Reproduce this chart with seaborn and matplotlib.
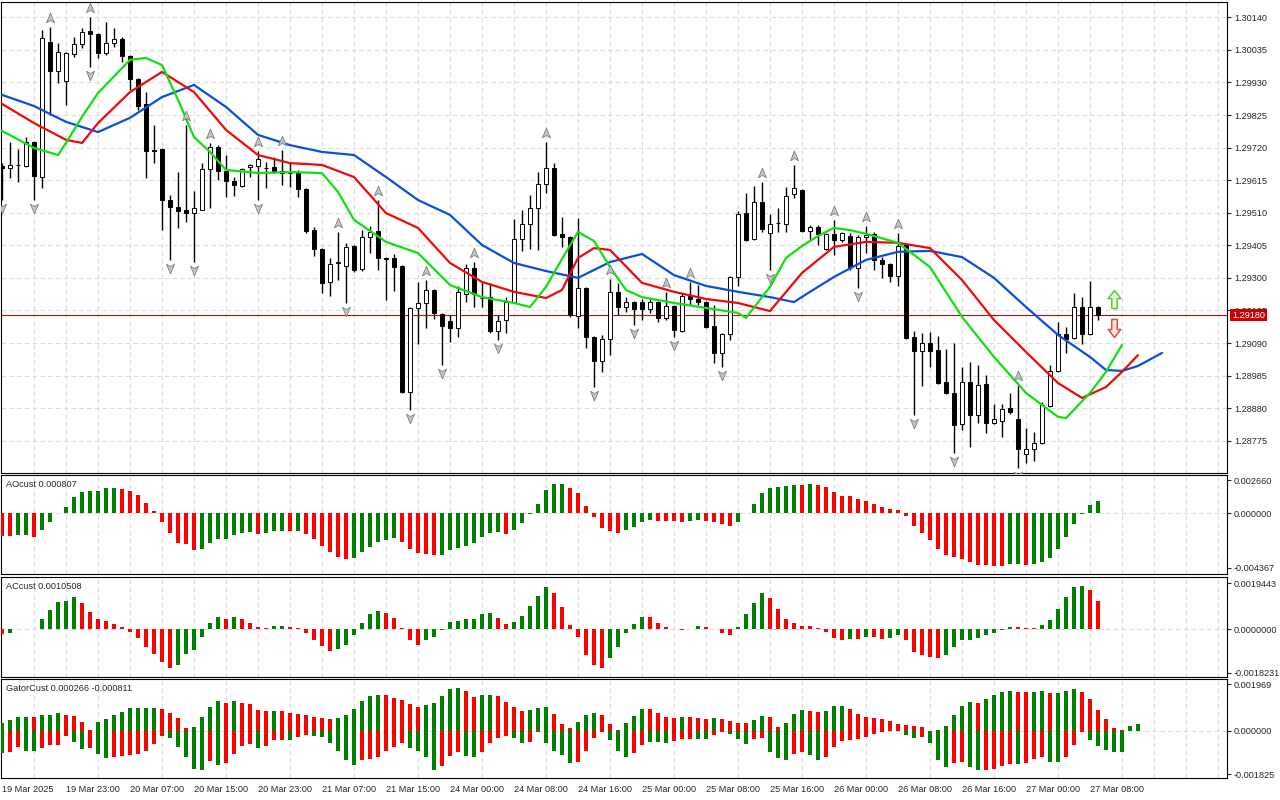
import numpy as np
import pandas as pd
import matplotlib
matplotlib.use("Agg")
import matplotlib.pyplot as plt
import matplotlib.transforms as mtransforms
from matplotlib.path import Path
import seaborn as sns

# ---- GBPUSD H1 candles (19 Mar 15:00 .. 27 Mar 09:00) ----
opens = [1.29661, 1.29654, 1.29664, 1.29661, 1.29738, 1.29625, 1.30061, 1.29967, 1.29935, 1.30022,
         1.30054, 1.30096, 1.30086, 1.30025, 1.30057, 1.30070, 1.30015, 1.29941, 1.29861, 1.29712,
         1.29716, 1.29551, 1.29529, 1.29519, 1.29509, 1.29519, 1.29651, 1.29722, 1.29645, 1.29612,
         1.29596, 1.29658, 1.29661, 1.29654, 1.29658, 1.29645, 1.29638, 1.29638, 1.29587, 1.29454,
         1.29393, 1.29287, 1.29348, 1.29338, 1.29403, 1.29329, 1.29432, 1.29451, 1.29364, 1.29364,
         1.29338, 1.28932, 1.29203, 1.29219, 1.29261, 1.29184, 1.29161, 1.29138, 1.29248, 1.29332,
         1.29235, 1.29238, 1.29129, 1.29164, 1.29222, 1.29425, 1.29474, 1.29525, 1.29603, 1.29654,
         1.29442, 1.29432, 1.29177, 1.29267, 1.29110, 1.29032, 1.29103, 1.29255, 1.29206, 1.29222,
         1.29222, 1.29200, 1.29222, 1.29171, 1.29209, 1.29129, 1.29242, 1.29232, 1.29222, 1.29145,
         1.29058, 1.29119, 1.29303, 1.29509, 1.29425, 1.29545, 1.29445, 1.29477, 1.29474, 1.29571,
         1.29583, 1.29451, 1.29464, 1.29393, 1.29442, 1.29422, 1.29435, 1.29332, 1.29432, 1.29442,
         1.29358, 1.29345, 1.29306, 1.29409, 1.29110, 1.29064, 1.29090, 1.29068, 1.28964, 1.28929,
         1.28829, 1.28964, 1.28858, 1.28958, 1.28832, 1.28839, 1.28881, 1.28845, 1.28732, 1.28748,
         1.28768, 1.28887, 1.29000, 1.29119, 1.29106, 1.29206, 1.29119, 1.29206]
highs = [1.29670, 1.29738, 1.29716, 1.29754, 1.29741, 1.30099, 1.30109, 1.30057, 1.30028, 1.30077,
         1.30106, 1.30141, 1.30090, 1.30125, 1.30106, 1.30077, 1.30019, 1.29944, 1.29899, 1.29793,
         1.29719, 1.29567, 1.29641, 1.29793, 1.29580, 1.29670, 1.29735, 1.29728, 1.29696, 1.29625,
         1.29654, 1.29667, 1.29709, 1.29674, 1.29690, 1.29712, 1.29674, 1.29648, 1.29590, 1.29464,
         1.29396, 1.29364, 1.29448, 1.29413, 1.29406, 1.29454, 1.29467, 1.29551, 1.29367, 1.29377,
         1.29340, 1.29206, 1.29287, 1.29293, 1.29264, 1.29187, 1.29180, 1.29274, 1.29345, 1.29351,
         1.29287, 1.29284, 1.29180, 1.29238, 1.29490, 1.29519, 1.29567, 1.29641, 1.29738, 1.29670,
         1.29496, 1.29435, 1.29493, 1.29271, 1.29113, 1.29116, 1.29296, 1.29284, 1.29238, 1.29226,
         1.29232, 1.29232, 1.29226, 1.29255, 1.29213, 1.29251, 1.29287, 1.29277, 1.29226, 1.29213,
         1.29122, 1.29306, 1.29516, 1.29574, 1.29596, 1.29609, 1.29506, 1.29525, 1.29593, 1.29664,
         1.29587, 1.29471, 1.29471, 1.29445, 1.29487, 1.29448, 1.29445, 1.29438, 1.29467, 1.29448,
         1.29367, 1.29348, 1.29445, 1.29413, 1.29129, 1.29122, 1.29126, 1.29113, 1.29071, 1.29090,
         1.29013, 1.29029, 1.29019, 1.28987, 1.28893, 1.28893, 1.28929, 1.28955, 1.28816, 1.28803,
         1.28900, 1.29019, 1.29158, 1.29142, 1.29251, 1.29238, 1.29290, 1.29210]
lows = [1.29551, 1.29622, 1.29609, 1.29658, 1.29551, 1.29590, 1.29825, 1.29928, 1.29857, 1.30012,
        1.30041, 1.29980, 1.30009, 1.30019, 1.30044, 1.29996, 1.29906, 1.29841, 1.29622, 1.29670,
        1.29454, 1.29358, 1.29461, 1.29480, 1.29351, 1.29519, 1.29525, 1.29616, 1.29561, 1.29564,
        1.29593, 1.29625, 1.29551, 1.29590, 1.29638, 1.29600, 1.29593, 1.29561, 1.29445, 1.29371,
        1.29251, 1.29242, 1.29293, 1.29219, 1.29319, 1.29322, 1.29380, 1.29325, 1.29229, 1.29258,
        1.28930, 1.28874, 1.29087, 1.29138, 1.29168, 1.29019, 1.29093, 1.29110, 1.29222, 1.29206,
        1.29206, 1.29122, 1.29100, 1.29122, 1.29219, 1.29387, 1.29393, 1.29390, 1.29574, 1.29436,
        1.29400, 1.29174, 1.29138, 1.29074, 1.28948, 1.28997, 1.29051, 1.29180, 1.29190, 1.29148,
        1.29164, 1.29187, 1.29158, 1.29164, 1.29110, 1.29126, 1.29213, 1.29213, 1.29138, 1.29026,
        1.29013, 1.29100, 1.29274, 1.29420, 1.29422, 1.29448, 1.29325, 1.29448, 1.29448, 1.29558,
        1.29448, 1.29422, 1.29406, 1.29390, 1.29374, 1.29416, 1.29325, 1.29267, 1.29380, 1.29325,
        1.29300, 1.29287, 1.29274, 1.29104, 1.28858, 1.28952, 1.29013, 1.28958, 1.28926, 1.28736,
        1.28810, 1.28755, 1.28832, 1.28800, 1.28829, 1.28787, 1.28861, 1.28687, 1.28703, 1.28710,
        1.28765, 1.28884, 1.28997, 1.29058, 1.29103, 1.29087, 1.29116, 1.29164]
closes = [1.29654, 1.29664, 1.29663, 1.29738, 1.29629, 1.30073, 1.29967, 1.30028, 1.30025, 1.30054,
          1.30093, 1.30086, 1.30025, 1.30057, 1.30070, 1.30015, 1.29941, 1.29854, 1.29709, 1.29709,
          1.29551, 1.29529, 1.29516, 1.29509, 1.29525, 1.29651, 1.29722, 1.29645, 1.29612, 1.29600,
          1.29651, 1.29664, 1.29683, 1.29655, 1.29641, 1.29638, 1.29637, 1.29587, 1.29451, 1.29393,
          1.29284, 1.29345, 1.29351, 1.29400, 1.29325, 1.29432, 1.29448, 1.29364, 1.29362, 1.29335,
          1.28932, 1.29203, 1.29219, 1.29261, 1.29187, 1.29145, 1.29138, 1.29255, 1.29332, 1.29248,
          1.29236, 1.29129, 1.29161, 1.29222, 1.29425, 1.29474, 1.29525, 1.29603, 1.29654, 1.29438,
          1.29432, 1.29180, 1.29267, 1.29110, 1.29032, 1.29103, 1.29255, 1.29206, 1.29222, 1.29200,
          1.29200, 1.29222, 1.29171, 1.29209, 1.29132, 1.29242, 1.29232, 1.29222, 1.29142, 1.29058,
          1.29119, 1.29303, 1.29506, 1.29422, 1.29545, 1.29458, 1.29474, 1.29476, 1.29564, 1.29590,
          1.29451, 1.29464, 1.29442, 1.29442, 1.29422, 1.29445, 1.29335, 1.29432, 1.29438, 1.29358,
          1.29345, 1.29306, 1.29403, 1.29106, 1.29064, 1.29090, 1.29064, 1.28961, 1.28929, 1.28826,
          1.28964, 1.28858, 1.28955, 1.28832, 1.28845, 1.28877, 1.28868, 1.28748, 1.28748, 1.28768,
          1.28890, 1.29000, 1.29119, 1.29103, 1.29206, 1.29119, 1.29206, 1.29180]

# ---- Alligator lines (bar index, price), shifted forward ----
jaw_idx = [0, 4, 8, 12, 16, 20, 24, 28, 32, 36, 40, 44, 48, 52, 56, 60, 64, 68, 72, 76, 80, 84,
           88, 92, 96, 99, 101, 104, 108, 112, 116, 120, 124, 128, 132, 136, 138, 140, 142, 145]
jaw_vals = [1.29890, 1.29854, 1.29803, 1.29770, 1.29816, 1.29883, 1.29922, 1.29851, 1.29761, 1.29728,
            1.29706, 1.29696, 1.29625, 1.29551, 1.29503, 1.29406, 1.29348, 1.29322, 1.29300, 1.29351,
            1.29377, 1.29309, 1.29274, 1.29255, 1.29238, 1.29222, 1.29255, 1.29303, 1.29358, 1.29384,
            1.29387, 1.29367, 1.29300, 1.29206, 1.29116, 1.29045, 1.29003, 1.29000, 1.29016, 1.29058]
teeth_idx = [0, 4, 8, 10, 12, 16, 20, 24, 28, 32, 36, 40, 44, 48, 52, 56, 60, 64, 68, 70, 72, 74,
             76, 80, 84, 88, 92, 96, 100, 104, 108, 112, 116, 120, 124, 128, 132, 135, 138, 140, 142]
teeth_vals = [1.29861, 1.29799, 1.29745, 1.29735, 1.29799, 1.29899, 1.29964, 1.29899, 1.29777, 1.29696,
              1.29670, 1.29664, 1.29625, 1.29509, 1.29461, 1.29348, 1.29287, 1.29255, 1.29235, 1.29261,
              1.29364, 1.29396, 1.29390, 1.29284, 1.29255, 1.29232, 1.29219, 1.29193, 1.29316, 1.29400,
              1.29416, 1.29413, 1.29396, 1.29293, 1.29164, 1.29061, 1.28961, 1.28913, 1.28948, 1.28997,
              1.29051]
lips_idx = [0, 4, 7, 8, 10, 12, 16, 18, 20, 22, 24, 26, 28, 32, 36, 40, 42, 44, 48, 52, 56, 60, 64,
            66, 68, 70, 72, 74, 76, 78, 80, 84, 88, 92, 93, 96, 98, 100, 102, 104, 106, 108, 112,
            116, 120, 124, 128, 132, 133, 136, 138, 140]
lips_vals = [1.29774, 1.29719, 1.29696, 1.29735, 1.29819, 1.29896, 1.30003, 1.30009, 1.29986, 1.29874,
             1.29754, 1.29706, 1.29648, 1.29638, 1.29641, 1.29638, 1.29577, 1.29487, 1.29416, 1.29380,
             1.29277, 1.29238, 1.29219, 1.29206, 1.29271, 1.29361, 1.29448, 1.29419, 1.29335, 1.29261,
             1.29238, 1.29219, 1.29203, 1.29187, 1.29171, 1.29271, 1.29364, 1.29403, 1.29435, 1.29461,
             1.29454, 1.29442, 1.29413, 1.29335, 1.29174, 1.29045, 1.28929, 1.28852, 1.28848, 1.28929,
             1.28997, 1.29084]

# ---- Fractals and signal arrows ----
up_fractals = [6, 11, 23, 26, 32, 35, 42, 47, 53, 59, 68, 76, 83, 86, 95, 99, 104, 108, 112, 127]
down_fractals = [0, 4, 11, 21, 24, 32, 43, 51, 55, 62, 74, 79, 84, 90, 96, 107, 114, 119, 127]
signal_bar = 139
signal_up_price = 1.29232
signal_down_price = 1.29139
last_price = 1.29180

# ---- Oscillators (in 1e-5 units) ----
ao_pts = [-178, -180, -174, -172, -186, -134, -66, 4, 54, 134,
          170, 178, 180, 200, 202, 198, 178, 146, 80, 18,
          -66, -160, -234, -248, -294, -286, -234, -206, -204, -174,
          -154, -152, -166, -154, -142, -140, -144, -142, -166, -206,
          -262, -306, -346, -366, -354, -312, -266, -226, -214, -194,
          -226, -286, -320, -326, -334, -332, -294, -274, -262, -234,
          -186, -154, -152, -166, -134, -80, -8, 74, 186, 234,
          236, 206, 160, 58, -26, -114, -138, -154, -134, -106,
          -66, -54, -58, -60, -62, -66, -64, -54, -58, -66,
          -88, -98, -66, 2, 74, 160, 204, 214, 216, 226,
          224, 234, 226, 214, 170, 142, 140, 114, 98, 74,
          48, 34, 26, -18, -98, -160, -214, -286, -334, -346,
          -366, -386, -414, -416, -422, -424, -406, -404, -414, -406,
          -386, -354, -286, -186, -86, -6, 66, 98]
ao_colors = ("RRGGRGGGGG" "GGGGGRRRRR" "RRRRRGGGGG" "GGRGGGRGRR" "RRRRGGGGGG"
             "RRRRRGGGGG" "GGGRGGGGGG" "GRRRRRRRGG" "GGRRRRGGRR" "RRGGGGGGGG"
             "RGRRRRRRRR" "RRRRRRRRRR" "RRRRRRGGRG" "GGGGGGGG")
ac_pts = [-20, -14, 2, 3, 2, 43, 81, 115, 119, 136,
          109, 73, 43, 35, 22, 10, -10, -35, -73, -104,
          -137, -161, -152, -104, -87, -31, 25, 53, 43, 53,
          42, 28, 10, 5, 14, 15, 10, 7, -14, -45,
          -70, -91, -84, -66, -24, 25, 63, 77, 67, 49,
          5, -47, -68, -47, -31, -5, 31, 35, 43, 44,
          64, 68, 47, 22, 31, 56, 98, 140, 178, 151,
          94, 18, -34, -110, -152, -161, -119, -73, -17, 22,
          52, 51, 26, 10, 3, -4, 1, 14, 10, 1,
          -17, -22, 10, 64, 110, 152, 131, 85, 43, 26,
          14, 13, 5, -11, -35, -45, -39, -40, -31, -32,
          -39, -35, -26, -47, -94, -110, -115, -119, -110, -73,
          -47, -43, -35, -26, -14, -5, 10, 9, 5, 4,
          18, 39, 85, 136, 178, 182, 165, 119]
ac_colors = ("RGGGRGGGGG" "RRRRRRRRRR" "RRGGGGGGRG" "RRRRGGRRRR" "RRGGGGGGRR"
             "RRRGGGGGGG" "GGRRGGGGGR" "RRRRRRGGGG" "GRRRRRGGRR" "RRGGGGRRRR"
             "RRRRRRGRGR" "RGGRRRRRGG" "GGGGGGGRRR" "GGGGGGRR")
gator_up_pts = [32, 46, 58, 60, 59, 66, 67, 74, 66, 65,
                37, 4, 38, 49, 66, 80, 95, 96, 97, 98,
                91, 74, 53, 11, 16, 58, 100, 126, 118, 126,
                118, 113, 88, 84, 85, 84, 74, 70, 66, 58,
                53, 49, 53, 67, 94, 126, 147, 151, 150, 139,
                130, 113, 101, 109, 118, 147, 176, 181, 168, 143,
                151, 152, 147, 122, 101, 84, 88, 97, 101, 71,
                29, 13, 38, 67, 76, 67, 29, 4, 32, 63,
                92, 91, 76, 59, 55, 59, 58, 55, 50, 55,
                50, 42, 34, 33, 46, 63, 58, 17, 35, 71,
                88, 84, 80, 84, 105, 106, 92, 71, 59, 55,
                50, 42, 29, 25, 21, 17, 1, 5, 21, 67,
                105, 122, 118, 134, 151, 164, 168, 164, 163, 164,
                168, 160, 161, 168, 176, 164, 134, 88, 50, 13,
                5, 21, 29]
gator_up_colors = ("GGGGRGGGRR" "RRGGGGGGGG" "RRRRGGGGRG" "RRRRGRRRRR" "RRGGGGGGRR"
                   "RRRGGGGGRR" "GGRRRRGGGR" "RRGGGRRRGG" "GRRRRGRRRG" "RRRRGGRRGG"
                   "GRRGGGRRRR" "RRRRRRRGGG" "GGRGGGGRRG" "GRGGGRRRRR" "RGG")
gator_dn_pts = [-91, -87, -66, -83, -84, -70, -59, -58, -20, -45,
                -74, -73, -97, -112, -111, -104, -100, -97, -83, -55,
                -20, -28, -66, -108, -161, -162, -125, -142, -133, -97,
                -63, -55, -70, -62, -38, -36, -37, -24, -17, -20,
                -24, -49, -83, -122, -142, -122, -119, -108, -83, -66,
                -49, -70, -83, -110, -163, -146, -104, -87, -104, -108,
                -87, -49, -28, -20, -28, -49, -48, -3, -49, -83,
                -100, -133, -129, -83, -28, -3, -37, -83, -108, -91,
                -59, -45, -45, -49, -41, -35, -32, -32, -33, -17,
                -3, -13, -32, -53, -32, -28, -87, -112, -121, -95,
                -87, -100, -121, -108, -66, -41, -37, -32, -24, -11,
                -3, -2, -1, -16, -28, -24, -49, -121, -150, -133,
                -129, -150, -163, -162, -158, -146, -137, -138, -133, -116,
                -108, -129, -130, -108, -58, -3, -37, -62, -79, -87,
                -88]
gator_dn_colors = ("GRRGGRRRRG" "GRGGRRRRRR" "RGGGGGRGRR" "RRGRRRGRRG" "GGGGGRRRRR"
                   "RGGGGRRRGG" "RRRRGGRRGG" "GGRRRRGGGR" "RGGGRRRGGR" "RGGGRRGGGR"
                   "RGGRRRRRRR" "RRRGGRGGGR" "RGGRRRRGRR" "RGGRRRGGGG" "G")

price_ticks = [1.28775, 1.28880, 1.28985, 1.29090, 1.29195, 1.29300, 1.29405,
               1.29510, 1.29615, 1.29720, 1.29825, 1.29930, 1.30035, 1.30140]
time_ticks = [0, 8, 16, 24, 32, 40, 48, 56, 64, 72, 80, 88, 96, 104, 112, 120, 128, 136]
time_labels = ["19 Mar 2025", "19 Mar 23:00", "20 Mar 07:00", "20 Mar 15:00", "20 Mar 23:00",
               "21 Mar 07:00", "21 Mar 15:00", "24 Mar 00:00", "24 Mar 08:00", "24 Mar 16:00",
               "25 Mar 00:00", "25 Mar 08:00", "25 Mar 16:00", "26 Mar 00:00", "26 Mar 08:00",
               "26 Mar 16:00", "27 Mar 00:00", "27 Mar 08:00"]

# ---------------------------------------------------------------
sns.set_style("white")
plt.rcParams['font.family'] = ['Liberation Sans', 'DejaVu Sans']
FS = 6.6
GREEN, RED = '#008000', '#FF0000'
GRID = dict(color='#DCDCDC', linestyle=(0, (4, 3)), linewidth=0.8)
cmap = {'G': GREEN, 'R': RED}

W, H = 1280, 800
fig = plt.figure(figsize=(12.8, 8), dpi=100)


def panel(top, bottom):
    return fig.add_axes([1 / W, 1 - bottom / H, 1226 / W, (bottom - top) / H])


ax = panel(2, 473)
ax_ao = panel(475, 574)
ax_ac = panel(577, 677)
ax_gt = panel(679, 778)
axes = [ax, ax_ao, ax_ac, ax_gt]

for a in axes:
    a.set_xlim(-0.125, 153.125)
    a.set_xticks(range(4, 153, 4), minor=True)
    a.grid(which='minor', axis='x', **GRID)
    a.set_axisbelow(True)
    a.yaxis.tick_right()
    a.tick_params(axis='y', which='major', length=3, width=0.8, pad=2,
                  labelsize=FS, direction='out')
    a.tick_params(axis='x', which='minor', length=0)
    for s in a.spines.values():
        s.set_color('black')
        s.set_linewidth(0.8)

# ---- candles ----
o, h, l, c = map(np.array, (opens, highs, lows, closes))
idx = np.arange(len(o))
ax.vlines(idx, l, h, color='black', linewidth=1.0, zorder=2)
bull = c >= o
body_low = np.minimum(o, c)
body_h = np.maximum(np.abs(c - o), 0.000015)
ax.bar(idx, body_h, bottom=body_low, width=0.62,
       color=np.where(bull, 'white', 'black'), edgecolor='black', linewidth=0.7, zorder=3)

ax.axhline(last_price, color='#B01010', linewidth=0.8, zorder=2.5)

# ---- alligator ----
for xs, ys, col in [(jaw_idx, jaw_vals, '#0A50D8'),
                    (teeth_idx, teeth_vals, '#EE0A0A'),
                    (lips_idx, lips_vals, '#10E010')]:
    df = pd.DataFrame({'bar': xs, 'price': ys})
    sns.lineplot(data=df, x='bar', y='price', color=col, linewidth=1.6,
                 estimator=None, sort=False, legend=False, ax=ax, zorder=4)
ax.set_xlabel('')
ax.set_ylabel('')

# ---- fractals ----
head_up = Path([(0, 1), (0.75, -0.8), (0, -0.35), (-0.75, -0.8), (0, 1)],
               [Path.MOVETO, Path.LINETO, Path.LINETO, Path.LINETO, Path.CLOSEPOLY])
head_dn = Path([(0, -1), (0.75, 0.8), (0, 0.35), (-0.75, 0.8), (0, -1)],
               [Path.MOVETO, Path.LINETO, Path.LINETO, Path.LINETO, Path.CLOSEPOLY])
tr_up = mtransforms.offset_copy(ax.transData, fig=fig, x=0, y=9, units='dots')
tr_dn = mtransforms.offset_copy(ax.transData, fig=fig, x=0, y=-8, units='dots')
ax.scatter(up_fractals, h[up_fractals], marker=head_up, s=60, c='#C4C4C4',
           edgecolors='#808080', linewidths=0.6, transform=tr_up, zorder=5)
ax.scatter(down_fractals, l[down_fractals], marker=head_dn, s=60, c='#C4C4C4',
           edgecolors='#808080', linewidths=0.6, transform=tr_dn, zorder=5)

# ---- signal arrows ----
blk_up = Path([(-0.3, -1), (0.3, -1), (0.3, 0.1), (0.7, 0.1), (0, 1), (-0.7, 0.1), (-0.3, 0.1), (-0.3, -1)],
              [Path.MOVETO] + [Path.LINETO] * 6 + [Path.CLOSEPOLY])
blk_dn = Path([(-0.3, 1), (0.3, 1), (0.3, -0.1), (0.7, -0.1), (0, -1), (-0.7, -0.1), (-0.3, -0.1), (-0.3, 1)],
              [Path.MOVETO] + [Path.LINETO] * 6 + [Path.CLOSEPOLY])
ax.scatter([signal_bar], [signal_up_price], marker=blk_up, s=170, c='#EAF8DC',
           edgecolors='#5CC83C', linewidths=1.1, zorder=6)
ax.scatter([signal_bar], [signal_down_price], marker=blk_dn, s=170, c='#FDE4E4',
           edgecolors='#F04848', linewidths=1.1, zorder=6)

ax.set_ylim(1.286709, 1.301894)
ax.set_yticks(price_ticks)
ax.set_yticklabels([f"{p:.5f}" for p in price_ticks])
ax.grid(which='major', axis='y', **GRID)
ax.set_xticks([])
ax.tick_params(axis='x', which='both', length=0, labelbottom=False)

trans_box = mtransforms.blended_transform_factory(ax.transAxes, ax.transData)
ax.text(1 + 5 / 1226, last_price, f"{last_price:.5f}", transform=trans_box, ha='left', va='center',
        fontsize=FS, color='white', clip_on=False, zorder=10,
        bbox=dict(boxstyle='square,pad=0.2', fc='#CC0000', ec='none'))

# ---- AO ----
ax_ao.bar(np.arange(len(ao_pts)), np.array(ao_pts) * 1e-5, width=0.5,
          color=[cmap[k] for k in ao_colors], linewidth=0, zorder=3)
ax_ao.set_ylim(-0.004856, 0.003064)
ax_ao.set_yticks([0.00266, 0.0, -0.004367])
ax_ao.set_yticklabels(['0.002660', '0.000000', '-0.004367'])
ax_ao.text(5 / 1226, 0.909, 'AOcust 0.000807', transform=ax_ao.transAxes,
           fontsize=FS, va='center', ha='left')

# ---- AC ----
ax_ac.bar(np.arange(len(ac_pts)), np.array(ac_pts) * 1e-5, width=0.5,
          color=[cmap[k] for k in ac_colors], linewidth=0, zorder=3)
ax_ac.set_ylim(-0.0020034, 0.0021966)
ax_ac.set_yticks([0.0019443, 0.0, -0.0018231])
ax_ac.set_yticklabels(['0.0019443', '0.0000000', '-0.0018231'])
ax_ac.text(5 / 1226, 0.903, 'ACcust 0.0010508', transform=ax_ac.transAxes,
           fontsize=FS, va='center', ha='left')

# ---- Gator ----
ax_gt.bar(np.arange(len(gator_up_pts)), np.array(gator_up_pts) * 1e-5, width=0.5,
          color=[cmap[k] for k in gator_up_colors], linewidth=0, zorder=3)
ax_gt.bar(np.arange(len(gator_dn_pts)), np.array(gator_dn_pts) * 1e-5, width=0.5,
          color=[cmap[k] for k in gator_dn_colors], linewidth=0, zorder=3)
ax_gt.set_ylim(-0.001974, 0.002184)
ax_gt.set_yticks([0.001969, 0.0, -0.001825])
ax_gt.set_yticklabels(['0.001969', '0.000000', '-0.001825'])
ax_gt.text(5 / 1226, 0.902, 'GatorCust 0.000266 -0.000811', transform=ax_gt.transAxes,
           fontsize=FS, va='center', ha='left')

for a in (ax_ao, ax_ac, ax_gt):
    a.axhline(0, zorder=1, **GRID)

for a in (ax_ao, ax_ac):
    a.set_xticks([])
    a.tick_params(axis='x', which='both', length=0, labelbottom=False)

ax_gt.set_xticks(time_ticks)
ax_gt.set_xticklabels(time_labels, ha='left')
ax_gt.tick_params(axis='x', which='major', length=3, width=0.8, pad=2, labelsize=FS)

fig.savefig("out.png", dpi=100)
